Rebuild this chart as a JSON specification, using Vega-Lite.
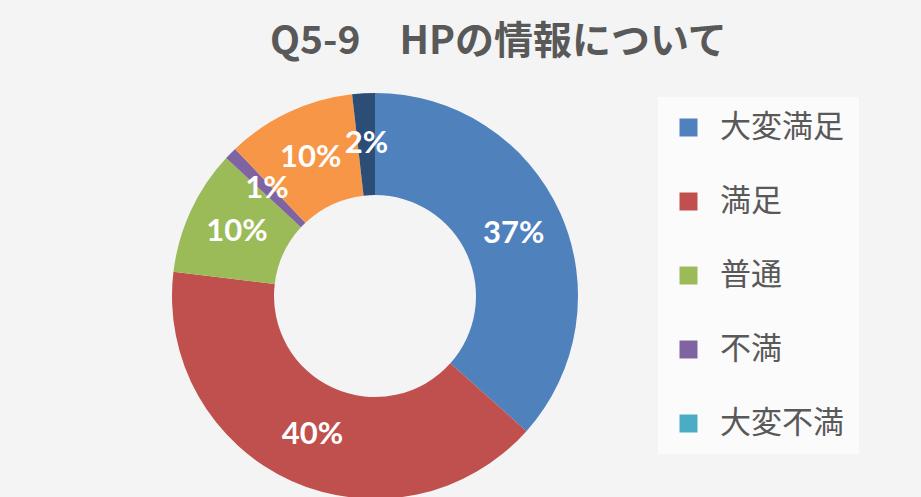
{
  "$schema": "https://vega.github.io/schema/vega-lite/v6.json",
  "width": 406,
  "height": 406,
  "autosize": {"type": "none"},
  "padding": {"left": 172, "top": 93, "right": 343, "bottom": 0},
  "background": "#f4f4f4",
  "config": {"view": {"stroke": null}},
  "title": {
    "text": "Q5-9　HPの情報について",
    "anchor": "start",
    "dx": 98,
    "offset": 31,
    "fontSize": 39,
    "font": "Noto Sans CJK JP",
    "fontWeight": "bold",
    "color": "#595959"
  },
  "data": {
    "values": [
      {"no": 1, "answer": "大変満足", "share": 0.366},
      {"no": 2, "answer": "満足", "share": 0.403},
      {"no": 3, "answer": "普通", "share": 0.100},
      {"no": 4, "answer": "不満", "share": 0.010},
      {"no": 5, "answer": "大変不満", "share": 0.0},
      {"no": 6, "answer": "その他", "share": 0.103},
      {"no": 7, "answer": "無回答", "share": 0.018}
    ]
  },
  "encoding": {
    "theta": {"field": "share", "type": "quantitative", "stack": true},
    "order": {"field": "no", "type": "quantitative"}
  },
  "layer": [
    {
      "mark": {"type": "arc", "innerRadius": 101, "outerRadius": 203},
      "encoding": {
        "color": {
          "field": "answer",
          "type": "nominal",
          "scale": {
            "domain": ["大変満足", "満足", "普通", "不満", "大変不満", "その他", "無回答"],
            "range": ["#4F81BD", "#C0504D", "#9BBB59", "#8064A2", "#4BACC6", "#F79646", "#2C4D75"]
          },
          "legend": {
            "values": ["大変満足", "満足", "普通", "不満", "大変不満"],
            "title": null,
            "orient": "none",
            "legendX": 486,
            "legendY": 4,
            "padding": 15,
            "fillColor": "#fbfbfb",
            "symbolType": "square",
            "symbolSize": 324,
            "symbolStrokeWidth": 0,
            "labelFont": "Noto Sans CJK JP",
            "labelFontSize": 31,
            "labelColor": "#595959",
            "labelOffset": 16,
            "labelLimit": 300,
            "rowPadding": 42
          }
        }
      }
    },
    {
      "transform": [{"filter": "datum.share > 0"}],
      "mark": {"type": "text", "radius": 152, "font": "Lato", "fontWeight": "bold", "fontSize": 31, "fill": "white"},
      "encoding": {
        "text": {"field": "share", "type": "quantitative", "format": ".0%"}
      }
    }
  ]
}
